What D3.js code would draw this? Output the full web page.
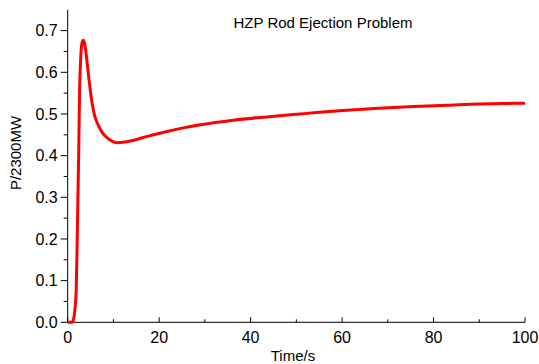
<!DOCTYPE html>
<html>
<head>
<meta charset="utf-8">
<script src="https://d3js.org/d3.v7.min.js"></script>
<style>
  html, body { margin: 0; padding: 0; background: #fff; }
  text { font-family: "Liberation Sans", Arial, sans-serif; fill: #000; }
</style>
</head>
<body>
<svg id="chart" width="539" height="364"></svg>
<script>
// time (s) and normalised power
var time = [0, 1.0, 1.3, 1.57, 1.86, 2.08, 2.27, 2.45, 2.6, 2.8, 2.95, 3.15, 3.4, 3.65, 3.9,
            4.2, 4.5, 4.85, 5.3, 5.8, 6.4, 7.1, 7.8, 8.6, 9.5, 10.75, 12.5, 14.4, 17, 21.7, 25, 29,
            36.2, 43.5, 50.8, 55, 61, 68, 75.6, 83, 90.2, 95, 100];
var power = [0, 0, 0.008, 0.03, 0.077, 0.198, 0.32, 0.438, 0.558, 0.622, 0.654, 0.672, 0.677, 0.671, 0.655,
             0.628, 0.598, 0.565, 0.528, 0.5, 0.48, 0.464, 0.452, 0.443, 0.436, 0.431, 0.4325, 0.437, 0.445, 0.458, 0.466, 0.474,
             0.485, 0.493, 0.5, 0.504, 0.509, 0.514, 0.518, 0.521, 0.524, 0.525, 0.526];
var xTicks = [0, 20, 40, 60, 80, 100];
var yTicks = [0, 0.1, 0.2, 0.3, 0.4, 0.5, 0.6, 0.7];
var title = "HZP Rod Ejection Problem";

var svg = d3.select("#chart");

var x = d3.scaleLinear().domain([0, 100]).range([67.7, 525]);
var y = d3.scaleLinear().domain([0, 0.75]).range([322.3, 9.8]);

// x axis: ticks point up into the plot
var gx = svg.append("g").attr("transform", "translate(0," + y(0) + ")");
gx.append("line").attr("x1", x(0)).attr("x2", x(100)).attr("stroke", "#000");
gx.selectAll("line.minor").data(d3.range(10, 100, 20)).enter().append("line")
  .attr("class", "minor")
  .attr("x1", function(d){ return x(d); }).attr("x2", function(d){ return x(d); })
  .attr("y1", 0).attr("y2", -3).attr("stroke", "#000");
gx.selectAll("line.major").data(xTicks).enter().append("line")
  .attr("class", "major")
  .attr("x1", function(d){ return x(d); }).attr("x2", function(d){ return x(d); })
  .attr("y1", 0).attr("y2", -5).attr("stroke", "#000");
gx.selectAll("text").data(xTicks).enter().append("text")
  .attr("x", function(d){ return x(d); })
  .attr("y", 21)
  .attr("text-anchor", "middle")
  .style("font-size", "16px")
  .text(function(d){ return d; });

// y axis: ticks point outward
var gy = svg.append("g").attr("transform", "translate(" + x(0) + ",0)");
gy.append("line").attr("y1", y(0)).attr("y2", y(0.75)).attr("stroke", "#000");
gy.selectAll("line.minor").data(d3.range(0.05, 0.75, 0.1)).enter().append("line")
  .attr("class", "minor")
  .attr("y1", function(d){ return y(d); }).attr("y2", function(d){ return y(d); })
  .attr("x1", 0).attr("x2", -4).attr("stroke", "#000");
gy.selectAll("line.major").data(yTicks).enter().append("line")
  .attr("class", "major")
  .attr("y1", function(d){ return y(d); }).attr("y2", function(d){ return y(d); })
  .attr("x1", 0).attr("x2", -7).attr("stroke", "#000");
gy.selectAll("text").data(yTicks).enter().append("text")
  .attr("x", -10)
  .attr("y", function(d){ return y(d); })
  .attr("dy", "0.36em")
  .attr("text-anchor", "end")
  .style("font-size", "16px")
  .text(function(d){ return d3.format(".1f")(d); });

// axis titles
svg.append("text")
  .attr("x", 293).attr("y", 361)
  .attr("text-anchor", "middle")
  .style("font-size", "15px")
  .text("Time/s");
svg.append("text")
  .attr("transform", "translate(21,153) rotate(-90)")
  .attr("text-anchor", "middle")
  .style("font-size", "15px")
  .text("P/2300MW");

svg.append("text")
  .attr("x", 323).attr("y", 28)
  .attr("text-anchor", "middle")
  .style("font-size", "15px")
  .text(title);

// curve
var line = d3.line()
  .x(function(d){ return x(d[0]); })
  .y(function(d){ return y(d[1]); })
  .curve(d3.curveMonotoneX);

svg.append("path")
  .datum(d3.zip(time, power))
  .attr("d", line)
  .attr("fill", "none")
  .attr("stroke", "#ff0000")
  .attr("stroke-width", 3);
</script>
</body>
</html>
